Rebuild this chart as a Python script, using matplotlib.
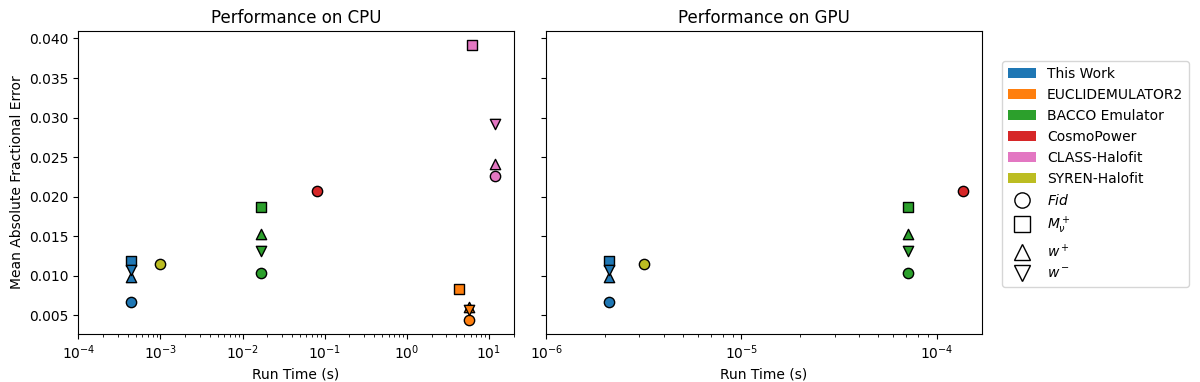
import numpy as np
import matplotlib.pyplot as plt
from matplotlib.patches import Patch
from matplotlib.lines import Line2D

# cosmologies: Fid, Mnu+, w+, w-
markers = ['o', 's', '^', 'v']
cosmo_labels = [r'$Fid$', r'$M_\nu^+$', r'$w^+$', r'$w^-$']

methods = ['This Work', 'EUCLIDEMULATOR2', 'BACCO Emulator', 'CosmoPower',
           'CLASS-Halofit', 'SYREN-Halofit']
colors = ['#1f77b4', '#ff7f0e', '#2ca02c', '#d62728', '#e377c2', '#bcbd22']

# run time (s) on CPU per cosmology (Fid, Mnu+, w+, w-)
cpu_thiswork = [4.4e-4, 4.4e-4, 4.4e-4, 4.4e-4]
cpu_euclid = [5.7, 4.3, 5.7, 5.7]
cpu_bacco = [0.0166, 0.0166, 0.0166, 0.0166]
cpu_cosmopower = [0.08]
cpu_class = [12.0, 6.2, 12.0, 12.0]
cpu_syren = [1.0e-3]
cpu_times = [cpu_thiswork, cpu_euclid, cpu_bacco, cpu_cosmopower, cpu_class, cpu_syren]

# run time (s) on GPU, None = not run on GPU
gpu_time = [2.1e-6, None, 7.1e-5, 1.37e-4, None, 3.16e-6]

# mean absolute fractional error for Fid, Mnu+, w+, w-
err_thiswork = [0.0067, 0.0119, 0.0099, 0.0108]
err_euclid = [0.0044, 0.0084, 0.0061, 0.0057]
err_bacco = [0.0104, 0.0187, 0.0153, 0.0131]
err_cosmopower = [0.0207]
err_class = [0.0226, 0.0392, 0.0242, 0.0292]
err_syren = [0.0115]
errors = [err_thiswork, err_euclid, err_bacco, err_cosmopower, err_class, err_syren]

fig, axes = plt.subplots(1, 2, figsize=(12, 3.82), dpi=100, sharey=True)
fig.subplots_adjust(left=0.0653, right=0.818, bottom=0.1257, top=0.9188, wspace=0.075)
ax_cpu, ax_gpu = axes

for m in range(len(methods)):
    for k, err in enumerate(errors[m]):
        ax_cpu.scatter(cpu_times[m][k], err, marker=markers[k], s=55, color=colors[m],
                       edgecolor='black', linewidth=1, zorder=3)
        if gpu_time[m] is not None:
            ax_gpu.scatter(gpu_time[m], err, marker=markers[k], s=55, color=colors[m],
                           edgecolor='black', linewidth=1, zorder=3)

ax_cpu.set_xscale('log')
ax_gpu.set_xscale('log')
ax_cpu.set_xlim(1e-4, 20)
ax_gpu.set_xlim(1e-6, 1.7e-4)

ax_cpu.set_title('Performance on CPU', fontsize=12)
ax_gpu.set_title('Performance on GPU', fontsize=12)
ax_cpu.set_xlabel('Run Time (s)')
ax_gpu.set_xlabel('Run Time (s)')
ax_cpu.set_ylabel('Mean Absolute Fractional Error')

handles = [Patch(facecolor=c, label=n) for c, n in zip(colors, methods)]
handles += [Line2D([], [], marker=mk, linestyle='none', markerfacecolor='white',
                   markeredgecolor='black', markersize=11, label=lb)
            for mk, lb in zip(markers, cosmo_labels)]
ax_gpu.legend(handles=handles, loc='upper left', bbox_to_anchor=(1.048, 0.9),
              borderaxespad=0, fontsize=10)

plt.savefig('out.png')
